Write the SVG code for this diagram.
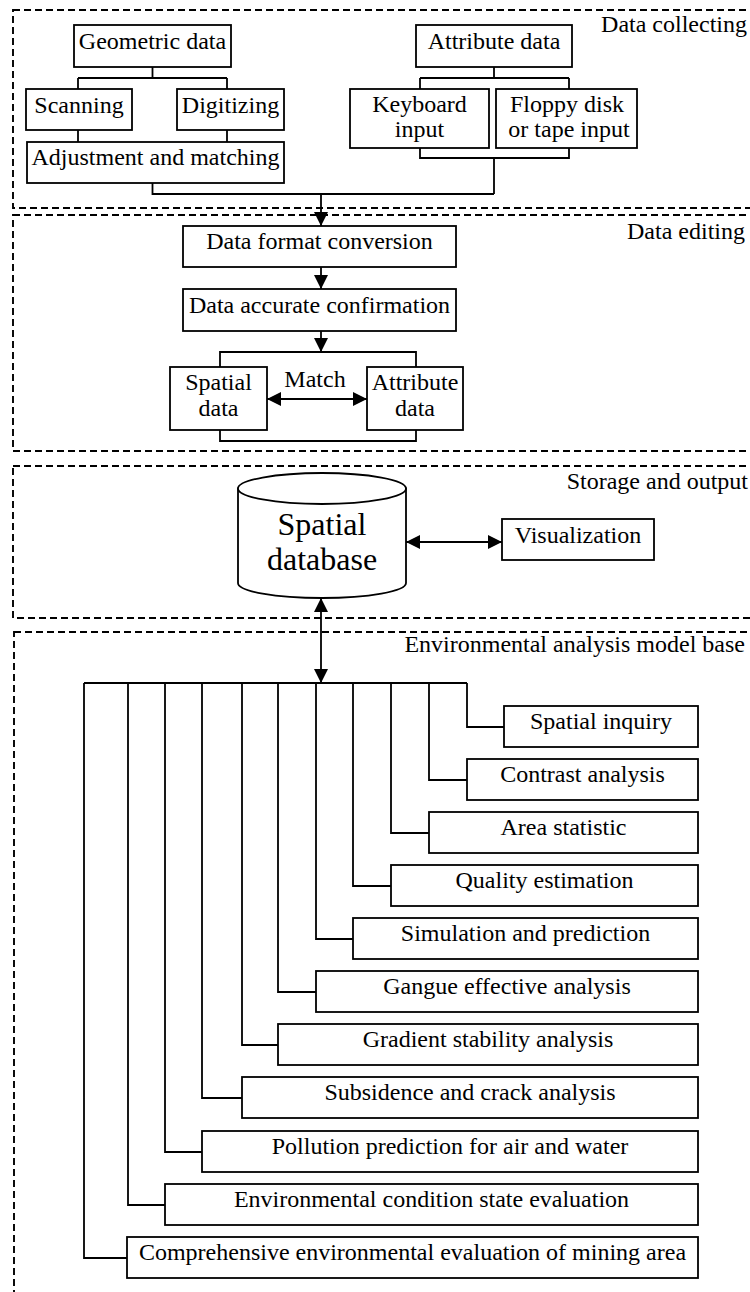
<svg xmlns="http://www.w3.org/2000/svg" width="750" height="1292" viewBox="0 0 750 1292">
<style>
text{font-family:"Liberation Serif","Times New Roman",serif;font-size:24px;fill:#000;text-anchor:middle}
.lbl{text-anchor:end}
.big{font-size:32px}
.box{fill:#fff;stroke:#000;stroke-width:1.8}
.sec{fill:none;stroke:#000;stroke-width:1.9;stroke-dasharray:7 4}
.con{fill:none;stroke:#000;stroke-width:1.8}
</style>
<defs>
<marker id="ah" viewBox="0 0 14 14" refX="14" refY="7" markerWidth="14" markerHeight="14" markerUnits="userSpaceOnUse" orient="auto-start-reverse"><path d="M0,0 L14,7 L0,14 z" fill="#000"/></marker>
</defs>
<rect width="750" height="1292" fill="#fff"/>
<g id="sections">
<rect class="sec" x="13" y="10" width="760" height="198"/>
<rect class="sec" x="13" y="215" width="760" height="236"/>
<rect class="sec" x="13" y="466" width="760" height="152"/>
<rect class="sec" x="14" y="632" width="760" height="700"/>
<text class="lbl" x="747" y="32">Data collecting</text>
<text class="lbl" x="745" y="239">Data editing</text>
<text class="lbl" x="748" y="489">Storage and output</text>
<text class="lbl" x="745" y="652">Environmental analysis model base</text>
</g>
<g id="connectors">
<path class="con" d="M152.5,67 V78 M78,78 H227 M78,78 V89 M227,78 V89 M78,130 V142 M227,130 V142"/>
<path class="con" d="M494,67 V78 M420,78 H569 M420,78 V89 M569,78 V89"/>
<path class="con" d="M420,148 V158 H569 V148 M494,158 V194 M152.5,183 V194 H494"/>
<path class="con" d="M321,194 V226" marker-end="url(#ah)"/>
<path class="con" d="M321,267 V289" marker-end="url(#ah)"/>
<path class="con" d="M321,331 V352" marker-end="url(#ah)"/>
<path class="con" d="M220,367 V352 H416 V367 M220,430 V441 H416 V430"/>
<path class="con" d="M267,399 H367" marker-start="url(#ah)" marker-end="url(#ah)"/>
<path class="con" d="M406,542 H502" marker-start="url(#ah)" marker-end="url(#ah)"/>
<path class="con" d="M321,598 V683" marker-start="url(#ah)" marker-end="url(#ah)"/>
<path class="con" d="M84,683 H467 M467,683 V727 H504 M429,683 V780 H467 M391,683 V833 H429 M353,683 V886 H391 M316,683 V939 H353 M278,683 V992 H316 M242,683 V1045 H278 M202,683 V1098 H242 M165,683 V1152 H202 M128,683 V1205 H165 M84,683 V1258 H127"/>
</g>
<g id="geometric"><rect class="box" x="74" y="25" width="157" height="42"/><text x="152.5" y="49">Geometric data</text></g>
<g id="scanning"><rect class="box" x="26" y="89" width="106" height="41"/><text x="79" y="113">Scanning</text></g>
<g id="digitizing"><rect class="box" x="177" y="89" width="107" height="41"/><text x="230.5" y="113">Digitizing</text></g>
<g id="adjustment"><rect class="box" x="27" y="142" width="257" height="41"/><text x="155.5" y="165">Adjustment and matching</text></g>
<g id="attribute"><rect class="box" x="416" y="25" width="156" height="42"/><text x="494" y="49">Attribute data</text></g>
<g id="keyboard"><rect class="box" x="350" y="89" width="139" height="59"/><text x="419.5" y="112">Keyboard</text><text x="419.5" y="137">input</text></g>
<g id="floppy"><rect class="box" x="496" y="89" width="141" height="59"/><text x="567" y="112">Floppy disk</text><text x="569" y="137">or tape input</text></g>
<g id="format"><rect class="box" x="183" y="226" width="273" height="41"/><text x="319.5" y="249">Data format conversion</text></g>
<g id="accurate"><rect class="box" x="183" y="289" width="273" height="42"/><text x="319.5" y="313">Data accurate confirmation</text></g>
<g id="spatialdata"><rect class="box" x="170" y="367" width="97" height="63"/><text x="218.5" y="390">Spatial</text><text x="218.5" y="416">data</text></g>
<g id="attributedata"><rect class="box" x="367" y="367" width="96" height="63"/><text x="415" y="390">Attribute</text><text x="415" y="416">data</text></g>
<g id="matchlabel"><text x="315" y="387">Match</text></g>
<g id="database">
<path class="box" d="M238,488.5 V583 A84,15 0 0 0 406,583 V488.5 Z"/>
<ellipse class="box" cx="322" cy="488.5" rx="84" ry="15.5"/>
<text class="big" x="322" y="535">Spatial</text><text class="big" x="322" y="570">database</text>
</g>
<g id="visualization"><rect class="box" x="502" y="519" width="152" height="41"/><text x="578" y="543">Visualization</text></g>
<g id="m1"><rect class="box" x="504" y="706" width="194" height="41"/><text x="601" y="729">Spatial inquiry</text></g>
<g id="m2"><rect class="box" x="467" y="759" width="231" height="41"/><text x="582.5" y="782">Contrast analysis</text></g>
<g id="m3"><rect class="box" x="429" y="812" width="269" height="41"/><text x="563.5" y="835">Area statistic</text></g>
<g id="m4"><rect class="box" x="391" y="865" width="307" height="41"/><text x="544.5" y="888">Quality estimation</text></g>
<g id="m5"><rect class="box" x="353" y="918" width="345" height="41"/><text x="525.5" y="941">Simulation and prediction</text></g>
<g id="m6"><rect class="box" x="316" y="971" width="382" height="41"/><text x="507" y="994">Gangue effective analysis</text></g>
<g id="m7"><rect class="box" x="278" y="1024" width="420" height="41"/><text x="488" y="1047">Gradient  stability analysis</text></g>
<g id="m8"><rect class="box" x="242" y="1077" width="456" height="41"/><text x="470" y="1100">Subsidence and crack analysis</text></g>
<g id="m9"><rect class="box" x="202" y="1131" width="496" height="41"/><text x="450" y="1154">Pollution prediction for air and water</text></g>
<g id="m10"><rect class="box" x="165" y="1184" width="533" height="41"/><text x="431.5" y="1207">Environmental condition state evaluation</text></g>
<g id="m11"><rect class="box" x="127" y="1237" width="571" height="41"/><text x="412.5" y="1260">Comprehensive environmental evaluation of mining area</text></g>
</svg>
